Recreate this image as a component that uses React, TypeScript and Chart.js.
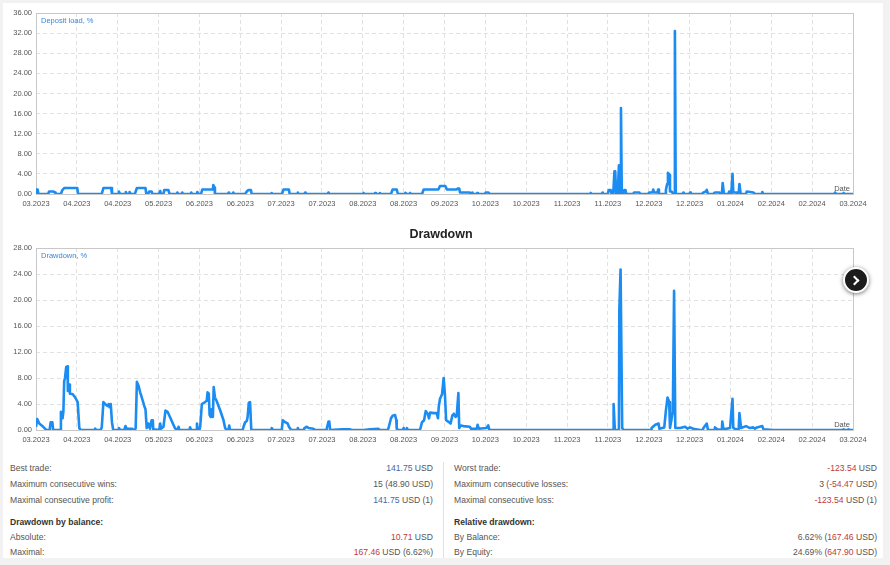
import React, { useEffect, useRef } from "react";
import { Chart, registerables } from "chart.js";

Chart.register(...registerables);

const FONT = '"Liberation Sans", Arial, sans-serif';

const xLabels = ["03.2023", "04.2023", "04.2023", "05.2023", "06.2023", "06.2023", "07.2023", "07.2023", "08.2023", "08.2023", "09.2023", "10.2023", "10.2023", "11.2023", "11.2023", "12.2023", "12.2023", "01.2024", "02.2024", "02.2024", "03.2024"];

// Deposit load, % (x in axis-interval units, 0..20)
const loadX = [0, 0.02, 0.04, 0.06, 0.30, 0.32, 0.42, 0.47, 0.48, 0.61, 0.64, 0.69, 1.01, 1.03, 1.61, 1.65, 1.84, 1.86, 2.02, 2.03, 2.06, 2.18, 2.20, 2.22, 2.28, 2.29, 2.32, 2.42, 2.47, 2.68, 2.70, 2.75, 2.77, 2.83, 2.85, 3.01, 3.04, 3.06, 3.12, 3.14, 3.24, 3.27, 3.45, 3.46, 3.48, 3.57, 3.58, 3.60, 3.79, 3.80, 3.82, 3.94, 3.95, 3.98, 4.04, 4.07, 4.33, 4.34, 4.37, 4.38, 4.70, 4.72, 4.74, 4.82, 4.83, 4.85, 5.12, 5.16, 5.20, 5.26, 5.28, 5.76, 5.77, 5.79, 6.02, 6.06, 6.19, 6.21, 6.39, 6.41, 6.42, 6.57, 6.59, 6.60, 7.14, 7.16, 7.18, 8.00, 8.02, 8.03, 8.29, 8.30, 8.32, 8.41, 8.42, 8.44, 8.69, 8.73, 8.83, 8.86, 9.02, 9.04, 9.05, 9.14, 9.16, 9.18, 9.45, 9.49, 9.85, 9.89, 10.02, 10.06, 10.09, 10.30, 10.32, 10.36, 10.38, 10.62, 10.64, 10.67, 10.68, 10.70, 10.79, 10.80, 10.82, 10.99, 11.01, 11.07, 11.11, 13.56, 13.58, 13.60, 13.85, 13.87, 13.89, 14.00, 14.02, 14.07, 14.09, 14.13, 14.16, 14.18, 14.20, 14.24, 14.27, 14.29, 14.31, 14.32, 14.34, 14.38, 14.40, 14.43, 14.45, 14.62, 14.64, 14.77, 14.79, 14.99, 15.01, 15.09, 15.11, 15.13, 15.21, 15.23, 15.25, 15.40, 15.42, 15.45, 15.47, 15.51, 15.52, 15.56, 15.60, 15.62, 15.64, 15.66, 15.83, 15.85, 15.87, 16.00, 16.01, 16.03, 16.30, 16.34, 16.40, 16.42, 16.45, 16.58, 16.62, 16.73, 16.75, 16.79, 16.81, 16.84, 16.95, 16.97, 16.99, 17.02, 17.05, 17.07, 17.14, 17.16, 17.20, 17.22, 17.25, 17.38, 17.40, 17.56, 17.60, 17.77, 17.78, 17.80, 19.55, 19.56, 19.59, 19.75, 19.77, 19.79, 20];
const loadY = [0, 0.9, 0.9, 0, 0, 0.5, 0.5, 0.3, 0, 0, 0.7, 1.2, 1.2, 0, 0, 1.2, 1.2, 0, 0, 0.5, 0, 0, 0.4, 0, 0, 0.4, 0, 0, 1.2, 1.2, 0, 0, 0.5, 0.5, 0, 0, 0.6, 0, 0, 0.8, 0.8, 0, 0, 0.3, 0, 0, 0.3, 0, 0, 0.3, 0, 0, 0.4, 0, 0, 0.9, 0.9, 1.8, 1.3, 0, 0, 0.3, 0, 0, 0.3, 0, 0, 0.5, 0.8, 0.8, 0, 0, 0.2, 0, 0, 0.9, 0.9, 0, 0, 0.3, 0, 0, 0.3, 0, 0, 0.3, 0, 0, 0.2, 0, 0, 0.2, 0, 0, 0.2, 0, 0, 0.9, 0.9, 0, 0, 0.2, 0, 0, 0.2, 0, 0, 0.9, 0.9, 1.6, 1.6, 0.9, 0.9, 0.9, 1.1, 1.1, 0.3, 0.3, 0, 0, 0.3, 0, 0, 0.2, 0, 0, 0.3, 0.3, 0, 0, 0.2, 0, 0, 0.3, 0, 0, 0.8, 0.8, 0, 0, 4.5, 4.5, 0, 0, 5.7, 0, 0, 17.1, 0, 0, 0.8, 0.8, 0, 0, 0.3, 0.3, 0, 0, 0.3, 0.3, 0.9, 0.3, 0.3, 0.9, 0, 0, 0.8, 2.0, 4.2, 3.8, 0.5, 0.5, 0, 0, 32.4, 0, 0, 0.3, 0, 0, 0.3, 0, 0, 0.3, 0.5, 0.8, 0, 0, 0.3, 0.3, 0, 0, 2.2, 0, 0, 0.5, 0, 0, 4.0, 0.3, 0.3, 0, 0, 2.0, 0, 0, 0.5, 0.3, 0, 0, 0.4, 0, 0, 0.3, 0, 0, 0.2, 0, 0];

// Drawdown, %
const ddX = [0, 0.03, 0.08, 0.14, 0.22, 0.26, 0.33, 0.34, 0.36, 0.40, 0.42, 0.60, 0.61, 0.65, 0.67, 0.69, 0.71, 0.74, 0.77, 0.78, 0.81, 0.83, 0.90, 0.96, 1.02, 1.06, 1.09, 1.43, 1.45, 1.47, 1.58, 1.61, 1.65, 1.71, 1.75, 1.78, 1.80, 1.83, 1.86, 1.89, 2.01, 2.03, 2.06, 2.16, 2.19, 2.22, 2.33, 2.36, 2.38, 2.42, 2.44, 2.47, 2.51, 2.55, 2.59, 2.65, 2.68, 2.71, 2.75, 2.79, 2.83, 2.86, 2.87, 3.02, 3.04, 3.06, 3.12, 3.17, 3.22, 3.28, 3.35, 3.40, 3.45, 3.47, 3.49, 3.51, 3.76, 3.77, 3.80, 3.92, 3.94, 3.96, 4.00, 4.02, 4.06, 4.14, 4.18, 4.20, 4.23, 4.25, 4.28, 4.30, 4.33, 4.35, 4.38, 4.42, 4.51, 4.59, 4.63, 4.67, 4.71, 4.73, 4.75, 5.06, 5.08, 5.12, 5.16, 5.18, 5.21, 5.24, 5.27, 5.76, 5.77, 5.80, 6.00, 6.02, 6.04, 6.10, 6.16, 6.20, 6.25, 6.39, 6.41, 6.43, 6.56, 6.57, 6.63, 6.67, 6.79, 6.83, 7.10, 7.12, 7.16, 7.18, 7.20, 7.49, 7.69, 7.73, 8.02, 8.18, 8.38, 8.42, 8.61, 8.63, 8.69, 8.73, 8.79, 8.82, 8.83, 8.87, 8.98, 9.00, 9.02, 9.06, 9.08, 9.10, 9.40, 9.45, 9.50, 9.54, 9.59, 9.62, 9.65, 9.73, 9.81, 9.84, 9.86, 9.89, 9.94, 9.98, 10.01, 10.04, 10.09, 10.15, 10.19, 10.23, 10.27, 10.30, 10.34, 10.36, 10.40, 10.46, 10.62, 10.65, 10.71, 10.79, 10.81, 10.84, 11.03, 11.07, 11.10, 14.13, 14.14, 14.17, 14.25, 14.27, 14.28, 14.31, 14.35, 14.38, 15.06, 15.07, 15.16, 15.24, 15.26, 15.38, 15.42, 15.46, 15.50, 15.52, 15.59, 15.62, 15.65, 15.77, 15.89, 15.95, 16.01, 16.09, 16.26, 16.32, 16.34, 16.42, 16.45, 16.61, 16.62, 16.68, 16.79, 16.80, 16.83, 16.99, 17.05, 17.07, 17.11, 17.20, 17.22, 17.26, 17.38, 17.48, 17.56, 17.60, 17.65, 17.78, 17.81, 18.05, 19.75, 19.77, 19.79, 19.87, 19.89, 19.91, 20];
const ddY = [0.5, 1.7, 1.0, 0.7, 0.2, 0, 0, 0.3, 1.2, 1.2, 0, 0, 2.8, 1.8, 2.8, 7.5, 8.0, 9.7, 9.8, 6.0, 7.0, 5.6, 5.5, 5.0, 4.3, 0.3, 0, 0, 0.2, 0, 0, 0.4, 4.3, 3.9, 3.7, 4.0, 3.5, 4.0, 1.2, 0, 0, 0.3, 0, 0, 0.6, 0.2, 0.2, 0.2, 0, 0, 0.3, 7.4, 6.8, 5.8, 5.0, 3.7, 3.2, 0.3, 1.0, 0.2, 1.5, 1.5, 0.1, 0, 1.0, 0.2, 0.5, 3.0, 2.8, 2.0, 1.0, 0.3, 0, 0, 0.5, 0, 0, 0.4, 0, 0, 1.0, 0, 0, 0.5, 4.0, 4.3, 4.5, 5.8, 5.6, 2.3, 2.0, 3.2, 2.0, 6.6, 5.0, 4.5, 3.0, 1.5, 0.3, 0, 0, 0.7, 0, 0, 0.5, 1.2, 1.4, 2.0, 4.2, 4.3, 0, 0, 0.3, 0, 0, 0.2, 1.5, 1.2, 1.0, 0.4, 0, 0, 0.3, 0, 0, 0.3, 0.5, 0.3, 0.2, 0, 0, 0.3, 1.3, 1.3, 0, 0.1, 0.1, 0, 0, 0.1, 0.2, 0, 0, 0.3, 1.8, 2.2, 2.3, 1.5, 0.2, 0, 0, 0.3, 0, 0, 0.3, 0, 0, 1.2, 1.5, 2.9, 2.5, 1.8, 2.7, 2.6, 2.6, 1.8, 3.6, 4.8, 5.5, 8.0, 5.5, 1.5, 1.3, 1.0, 2.2, 2.5, 2.0, 2.2, 5.7, 0.3, 0.7, 0.6, 0.5, 0.2, 0.2, 0.2, 0.8, 0.2, 0.3, 0.7, 0, 0, 4.0, 0, 0, 0.2, 18.5, 24.7, 0.3, 0, 0, 0.3, 0.8, 1.0, 0.2, 0.4, 3.0, 5.0, 4.3, 0.3, 2.8, 21.4, 0.3, 0.3, 0.5, 0.2, 0.4, 0.2, 0, 0, 0.3, 1.0, 0, 0, 0.4, 0.1, 0, 1.3, 0.1, 0.3, 4.8, 0.3, 0.2, 0, 2.6, 0.3, 0.6, 0.3, 0.4, 0.2, 0.4, 0.6, 0.1, 0, 0, 0.1, 0, 0, 0.1, 0, 0];

const LINE_COLOR = "#1b8cf2";
const TEXT = "#555555";
const BLUE_VAL = "#46679f";
const RED_VAL = "#c0393b";

const framePlugin = {
  id: "frame",
  beforeDatasetsDraw(chart: any) {
    const { ctx, chartArea: a } = chart;
    ctx.save();
    ctx.strokeStyle = "#c8c8c8";
    ctx.lineWidth = 1;
    ctx.strokeRect(Math.round(a.left) + 0.5, Math.round(a.top) + 0.5, Math.round(a.right - a.left), Math.round(a.bottom - a.top));
    ctx.restore();
  },
  afterDraw(chart: any, _args: any, opts: any) {
    const { ctx, chartArea: a } = chart;
    ctx.save();
    ctx.font = `7.5px ${FONT}`;
    ctx.textAlign = "left";
    ctx.textBaseline = "middle";
    ctx.fillStyle = "#3a86d8";
    ctx.fillText(opts.legend || "", a.left + 5, a.top + 8);
    ctx.fillStyle = TEXT;
    ctx.textAlign = "right";
    ctx.textBaseline = "alphabetic";
    ctx.fillText("Date", a.right - 3, a.bottom - 3);
    ctx.restore();
  },
};

function LineChart(props: { xs: number[]; ys: number[]; yMax: number; legend: string; top: number; height: number }) {
  const ref = useRef<HTMLCanvasElement | null>(null);
  const { xs, ys, yMax, legend, top, height } = props;
  useEffect(() => {
    if (!ref.current) return;
    const tickFont = { size: 7.5, family: FONT };
    const chart = new Chart(ref.current, {
      type: "line",
      data: {
        datasets: [
          {
            data: xs.map((x, i) => ({ x, y: ys[i] })),
            borderColor: LINE_COLOR,
            borderWidth: 2.6,
            pointRadius: 0,
            tension: 0,
            fill: false,
            borderJoinStyle: "round",
          } as any,
        ],
      },
      options: {
        responsive: false,
        animation: false,
        devicePixelRatio: 1,
        layout: { padding: { left: 0, right: 30, top: 13, bottom: 0 } },
        plugins: { legend: { display: false }, tooltip: { enabled: false }, frame: { legend } } as any,
        scales: {
          x: {
            type: "linear",
            min: 0,
            max: 20,
            afterBuildTicks: (s: any) => {
              s.ticks = xLabels.map((_, i) => ({ value: i }));
            },
            afterFit: (s: any) => {
              s.height = 21;
            },
            ticks: {
              autoSkip: false,
              maxRotation: 0,
              minRotation: 0,
              padding: 5,
              color: TEXT,
              font: tickFont,
              callback: (v: any) => xLabels[Math.round(Number(v))] ?? "",
            },
            grid: { color: "#e1e1e1", drawTicks: false, lineWidth: 1 },
            border: { display: false, dash: [4, 3] },
          },
          y: {
            min: 0,
            max: yMax,
            afterFit: (s: any) => {
              s.width = 36;
            },
            ticks: {
              stepSize: 4,
              padding: 4,
              color: TEXT,
              font: tickFont,
              callback: (v: any) => Number(v).toFixed(2),
            },
            grid: { color: "#e1e1e1", drawTicks: false, lineWidth: 1 },
            border: { display: false, dash: [4, 3] },
          },
        },
      } as any,
      plugins: [framePlugin as any],
    });
    return () => chart.destroy();
  }, []);
  return (
    <canvas
      ref={ref}
      width={883}
      height={height}
      style={{ position: "absolute", left: 0, top, width: 883, height }}
    />
  );
}

type Part = { t: string; c?: string };

const leftRows: { label: string; value: Part[]; y: number; bold?: boolean }[] = [
  { label: "Best trade:", value: [{ t: "141.75", c: BLUE_VAL }, { t: " USD" }], y: 468 },
  { label: "Maximum consecutive wins:", value: [{ t: "15 (48.90 USD)" }], y: 484 },
  { label: "Maximal consecutive profit:", value: [{ t: "141.75", c: BLUE_VAL }, { t: " USD (1)" }], y: 500 },
  { label: "Drawdown by balance:", value: [], y: 522, bold: true },
  { label: "Absolute:", value: [{ t: "10.71", c: RED_VAL }, { t: " USD" }], y: 537 },
  { label: "Maximal:", value: [{ t: "167.46", c: RED_VAL }, { t: " USD (6.62%)" }], y: 552 },
];

const rightRows: { label: string; value: Part[]; y: number; bold?: boolean }[] = [
  { label: "Worst trade:", value: [{ t: "-123.54", c: RED_VAL }, { t: " USD" }], y: 468 },
  { label: "Maximum consecutive losses:", value: [{ t: "3 (" }, { t: "-54.47", c: RED_VAL }, { t: " USD)" }], y: 484 },
  { label: "Maximal consecutive loss:", value: [{ t: "-123.54", c: RED_VAL }, { t: " USD (1)" }], y: 500 },
  { label: "Relative drawdown:", value: [], y: 522, bold: true },
  { label: "By Balance:", value: [{ t: "6.62% (" }, { t: "167.46", c: RED_VAL }, { t: " USD)" }], y: 537 },
  { label: "By Equity:", value: [{ t: "24.69% (" }, { t: "647.90", c: RED_VAL }, { t: " USD)" }], y: 552 },
];

function StatRows(props: { rows: typeof leftRows; labelX: number; valueRight: number }) {
  const { rows, labelX, valueRight } = props;
  return (
    <>
      {rows.map((r, i) => (
        <React.Fragment key={i}>
          <div
            style={{
              position: "absolute",
              left: labelX,
              top: r.y - 6,
              height: 12,
              lineHeight: "12px",
              fontSize: 8.6,
              color: r.bold ? "#333" : TEXT,
              fontWeight: r.bold ? "bold" : "normal",
              whiteSpace: "nowrap",
            }}
          >
            {r.label}
          </div>
          {r.value.length > 0 && (
            <div
              style={{
                position: "absolute",
                right: 890 - valueRight,
                top: r.y - 6,
                height: 12,
                lineHeight: "12px",
                fontSize: 8.6,
                color: TEXT,
                whiteSpace: "nowrap",
                textAlign: "right",
              }}
            >
              {r.value.map((p, j) => (
                <span key={j} style={{ color: p.c || TEXT }}>
                  {p.t}
                </span>
              ))}
            </div>
          )}
        </React.Fragment>
      ))}
    </>
  );
}

export default function App() {
  return (
    <div
      style={{
        position: "fixed",
        left: 0,
        top: 0,
        width: 890,
        height: 565,
        background: "#f2f2f2",
        overflow: "hidden",
        fontFamily: FONT,
      }}
    >
      <div style={{ position: "absolute", left: 3, top: 3, width: 880, height: 555, background: "#ffffff" }} />
      <LineChart xs={loadX} ys={loadY} yMax={36} legend="Deposit load, %" top={0} height={215} />
      <LineChart xs={ddX} ys={ddY} yMax={28} legend="Drawdown, %" top={235} height={216} />
      <div
        style={{
          position: "absolute",
          left: 0,
          width: 882,
          top: 226,
          height: 16,
          lineHeight: "16px",
          textAlign: "center",
          fontWeight: "bold",
          fontSize: 12.5,
          color: "#222",
        }}
      >
        Drawdown
      </div>
      <div style={{ position: "absolute", left: 443, top: 462, width: 1, height: 96, background: "#e2e2e2" }} />
      <StatRows rows={leftRows} labelX={10} valueRight={433} />
      <StatRows rows={rightRows} labelX={454} valueRight={877} />
      <div
        style={{
          position: "absolute",
          left: 843,
          top: 267,
          width: 22,
          height: 22,
          borderRadius: "50%",
          background: "#1c1c1c",
          border: "2px solid #ffffff",
          boxShadow: "0 1px 4px rgba(0,0,0,0.55)",
        }}
      >
        <div
          style={{
            position: "absolute",
            left: 6,
            top: 7.5,
            width: 5,
            height: 5,
            borderTop: "2px solid #fff",
            borderRight: "2px solid #fff",
            transform: "rotate(45deg)",
          }}
        />
      </div>
    </div>
  );
}
